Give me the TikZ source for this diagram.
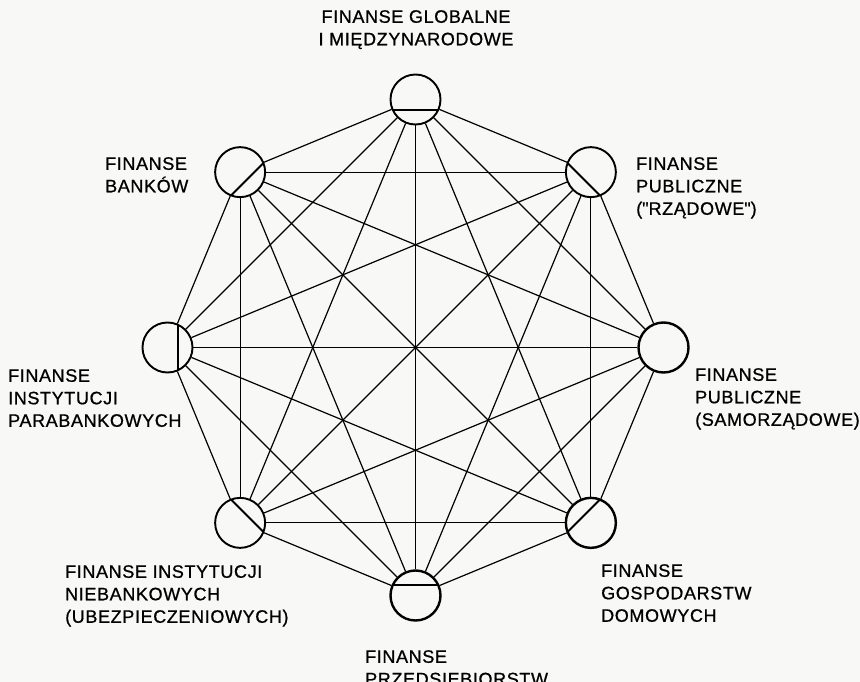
\documentclass[tikz,border=0pt]{standalone}
\usepackage{fontspec}
\setmainfont{Liberation Sans}[LetterSpace=3.5,FakeBold=0.8]
\usetikzlibrary{calc}
\definecolor{bg}{RGB}{248,248,246}
\begin{document}
\begin{tikzpicture}[x=1pt,y=-1pt,
  hub/.style={circle,draw=black,line width=1.9pt,fill=bg,minimum size=50pt,inner sep=0pt},
  hubbold/.style={hub,line width=2.4pt},
  link/.style={line width=1.2pt,black},
  chord/.style={line width=2pt,black},
  lab/.style={font=\fontsize{18}{22.5}\selectfont,inner sep=0pt,align=left,anchor=north west}]
\fill[bg] (0,0) rectangle (860,682);
\useasboundingbox (0,0) rectangle (860,682);
\coordinate (o) at (415.5,347.5);
% nodes: angle in screen coordinates (positive = clockwise)
\node[hub]     (n1) at ($(o)+(-90:248)$) {};
\node[hub]     (n2) at ($(o)+(-45:248)$) {};
\node[hubbold] (n3) at ($(o)+(0:248)$) {};
\node[hubbold] (n4) at ($(o)+(45:248)$) {};
\node[hubbold] (n5) at ($(o)+(90:248)$) {};
\node[hub]     (n6) at ($(o)+(135:248)$) {};
\node[hub]     (n7) at ($(o)+(180:248)$) {};
\node[hub]     (n8) at ($(o)+(225:248)$) {};
% complete graph
\foreach \i in {1,...,7}{
  \pgfmathtruncatemacro\k{\i+1}
  \foreach \j in {\k,...,8}{
    \draw[link] (n\i) -- (n\j);
  }
}
% chords facing the centre
\foreach \i/\a in {1/-90,2/-45,4/45,5/90,6/135,7/180,8/225}{
  \draw[chord] ($(n\i.center)+(\a+180+66.4:25)$) -- ($(n\i.center)+(\a+180-66.4:25)$);
}
% labels
\node[lab,align=center,anchor=north] (t1) at (416,10) {FINANSE GLOBALNE\\I MIĘDZYNARODOWE};
\node[lab] (t2) at (636,157) {FINANSE\\PUBLICZNE\\(\textquotedbl RZĄDOWE\textquotedbl)};
\node[lab] (t3) at (695,368) {FINANSE\\PUBLICZNE\\(SAMORZĄDOWE)};
\node[lab] (t4) at (601,564) {FINANSE\\GOSPODARSTW\\DOMOWYCH};
\node[lab] (t5) at (365,650) {FINANSE\\PRZEDSIĘBIORSTW};
\node[lab] (t6) at (65,565) {FINANSE INSTYTUCJI\\NIEBANKOWYCH\\(UBEZPIECZENIOWYCH)};
\node[lab] (t7) at (8,369) {FINANSE\\INSTYTUCJI\\PARABANKOWYCH};
\node[lab] (t8) at (105,157) {FINANSE\\BANKÓW};
\end{tikzpicture}
\end{document}
